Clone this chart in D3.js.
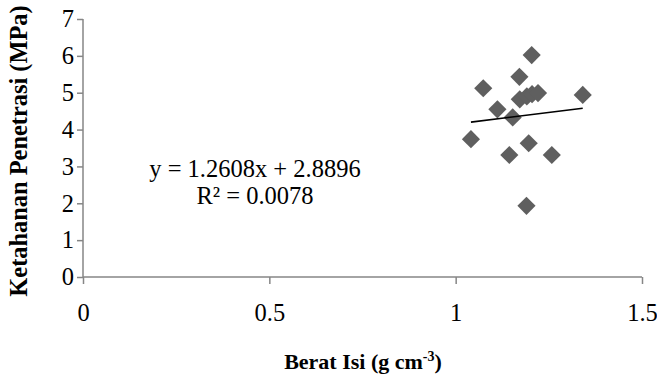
<!DOCTYPE html>
<html>
<head>
<meta charset="utf-8">
<script src="https://cdn.jsdelivr.net/npm/d3@7"></script>
<style>
  html, body { margin: 0; padding: 0; background: #fff; }
  svg { display: block; font-family: "Liberation Serif", "Times New Roman", serif; }
  svg text { font-family: "Liberation Serif", "Times New Roman", serif; }
</style>
</head>
<body>
<svg id="chart" width="657" height="379"></svg>
<script>
// Bulk density (g cm-3) vs. penetration resistance (MPa)
const beratIsi = [1.204, 1.171, 1.074, 1.341, 1.112, 1.153, 1.041, 1.196, 1.144, 1.258, 1.190, 1.172, 1.191, 1.205, 1.221];
const ketahanan = [6.02, 5.43, 5.12, 4.94, 4.55, 4.33, 3.74, 3.63, 3.31, 3.31, 1.93, 4.82, 4.90, 4.96, 4.99];
const xTicks = [0, 0.5, 1, 1.5];
const yTicks = [0, 1, 2, 3, 4, 5, 6, 7];
const slope = 1.2608, intercept = 2.8896, r2 = "0.0078";

const svg = d3.select("#chart");
const x = d3.scaleLinear().domain([0, 1.5]).range([83, 642]);
const y = d3.scaleLinear().domain([0, 7]).range([277, 19]);
const axisColor = "#868686";
const labelSize = 24.5;

// x axis
const gx = svg.append("g").attr("transform", `translate(0,${y(0)})`)
  .call(d3.axisBottom(x).tickValues(xTicks).tickSize(6).tickFormat(d3.format("")));
// y axis
const gy = svg.append("g").attr("transform", `translate(${x(0)},0)`)
  .call(d3.axisLeft(y).tickValues(yTicks).tickSize(6).tickPadding(3).tickFormat(d3.format("d")));

[gx, gy].forEach(g => {
  g.attr("font-family", null).attr("font-size", null);
  g.select(".domain").attr("stroke", axisColor).attr("stroke-width", 1.5);
  g.selectAll(".tick line").attr("stroke", axisColor).attr("stroke-width", 1.5);
  g.selectAll(".tick text").attr("fill", "#000").style("font-size", labelSize + "px");
});
gx.select(".domain").attr("d", `M${x(0)},0H${x(1.5)}`);
gy.select(".domain").attr("d", `M0,${y(0)}V${y(7)}`);
gx.selectAll(".tick line").attr("y2", 7);
gx.selectAll(".tick text").attr("y", 44).attr("dy", null);

// data points as diamonds
svg.append("g").selectAll("path").data(d3.range(beratIsi.length)).join("path")
  .attr("d", d3.symbol(d3.symbolSquare, 165)())
  .attr("transform", i => `translate(${x(beratIsi[i])},${y(ketahanan[i])}) rotate(45)`)
  .attr("fill", "#5f5f5f");

// linear trendline across the data range
const xMin = d3.min(beratIsi), xMax = d3.max(beratIsi);
svg.append("line")
  .attr("x1", x(xMin)).attr("y1", y(slope * xMin + intercept))
  .attr("x2", x(xMax)).attr("y2", y(slope * xMax + intercept))
  .attr("stroke", "#000").attr("stroke-width", 1.6);

// regression equation
const eq = svg.append("text").attr("text-anchor", "middle").style("font-size", labelSize + "px");
eq.append("tspan").attr("x", 255).attr("y", 177).text(`y = ${slope}x + ${intercept}`);
eq.append("tspan").attr("x", 255).attr("y", 204).text(`R² = ${r2}`);

// axis titles
const xt = svg.append("text").attr("x", 363).attr("y", 369).attr("text-anchor", "middle")
  .style("font-size", "22px").style("font-weight", "bold");
xt.append("tspan").text("Berat Isi (g cm");
xt.append("tspan").attr("dy", -8).style("font-size", "14px").text("-3");
xt.append("tspan").attr("dy", 8).text(")");

svg.append("text").attr("transform", "translate(27,151) rotate(-90)")
  .attr("text-anchor", "middle").style("font-size", "24.4px").style("font-weight", "bold")
  .text("Ketahanan Penetrasi (MPa)");
</script>
</body>
</html>
